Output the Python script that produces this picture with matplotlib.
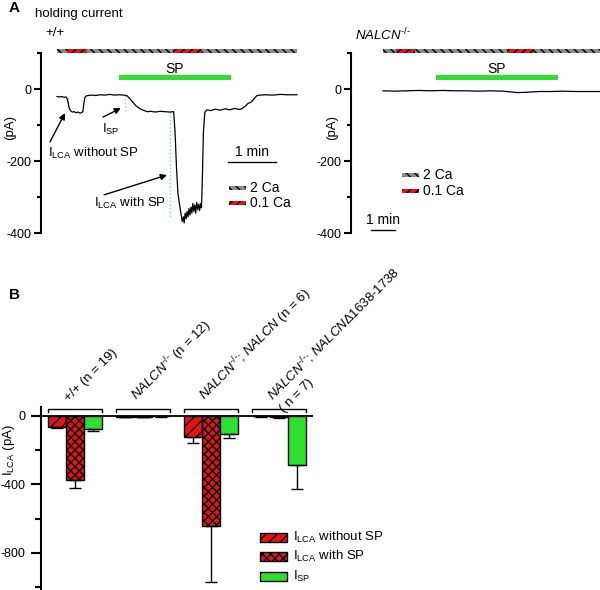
import matplotlib
matplotlib.use('Agg')
import matplotlib.pyplot as plt
from matplotlib.patches import Rectangle
from matplotlib.transforms import offset_copy
import numpy as np

plt.rcParams.update({
    'font.family': ['Liberation Sans', 'DejaVu Sans'],
    'font.size': 9,
    'mathtext.fontset': 'custom',
    'mathtext.rm': 'Liberation Sans',
    'mathtext.it': 'Liberation Sans:italic',
    'mathtext.bf': 'Liberation Sans:bold',
    'axes.unicode_minus': False,
    'hatch.linewidth': 1.0,
})

# ---------------- data ----------------
# Panel A, wild type holding current (time in min, current in pA)
wt_time = [0.00, 0.05, 0.10, 0.15, 0.19, 0.22, 0.25, 0.28, 0.32, 0.36, 0.40, 0.44,
           0.48, 0.52, 0.54, 0.56, 0.58, 0.61, 0.65, 0.72, 0.80, 0.90, 1.00, 1.10,
           1.20, 1.30, 1.40, 1.46, 1.52, 1.58, 1.64, 1.70, 1.76, 1.82, 1.88, 1.95,
           2.05, 2.15, 2.25, 2.35, 2.43, 2.46, 2.49, 2.52, 2.55, 2.57, 2.59, 2.61,
           2.63, 2.65, 2.67, 2.69, 2.71, 2.73, 2.75, 2.77, 2.79, 2.81, 2.83, 2.85,
           2.87, 2.89, 2.91, 2.93, 2.95, 2.97, 2.99, 3.01, 3.03, 3.05, 3.08, 3.12,
           3.20, 3.30, 3.40, 3.50, 3.60, 3.70, 3.80, 3.85, 3.92, 3.98, 4.04, 4.10,
           4.16, 4.22, 4.35, 4.50, 4.65, 4.80, 5.00]
wt_current = [-21, -22, -21, -23, -22, -30, -50, -60, -64, -63, -66, -64,
              -67, -65, -62, -40, -24, -19, -18, -17, -18, -16, -17, -15,
              -17, -16, -17, -19, -27, -37, -46, -52, -57, -60, -63, -62,
              -64, -62, -63, -64, -63, -120, -220, -290, -318, -335, -352, -368,
              -355, -372, -345, -360, -340, -355, -332, -350, -328, -345, -318, -340,
              -322, -345, -315, -335, -320, -338, -318, -330, -240, -120, -65, -58,
              -60, -56, -59, -55, -58, -54, -57, -55, -48, -40, -37, -28,
              -19, -17, -16, -17, -15, -16, -16]
# Panel A, NALCN-/- holding current
ko_time = [0.0, 0.5, 1.0, 1.5, 2.0, 2.5, 3.0, 3.5, 4.0, 4.5, 5.0, 5.3, 5.6,
           6.0, 6.5, 7.0, 7.5, 8.0, 8.5, 9.04]
ko_current = [-5, -6, -5, -4, -5, -4, -5, -5, -6, -5, -6, -8, -10,
              -9, -7, -7, -6, -7, -7, -7]

bath_conc = ['2 Ca', '0.1 Ca', '2 Ca', '0.1 Ca', '2 Ca']
wt_bath_edges = [0.0, 0.21, 0.625, 2.42, 3.02, 5.0]
ko_bath_edges = [0.0, 0.54, 1.33, 5.17, 6.29, 9.04]
wt_sp = [1.29, 3.625]
ko_sp = [2.21, 7.29]
# dotted guide lines (time, top, bottom)
wt_guides = [(0.23, -22, -62), (1.42, -17, -62), (2.35, -64, -355)]

# Panel B
KO = r'$\mathit{NALCN}^{\text{-/-}}$'
group_labels = ['+/+ (n = 19)',
                KO + ' (n = 12)',
                KO + r'; $\mathit{NALCN}$ (n = 6)',
                KO + r'; $\mathit{NALCN}$Δ1638-1738']
group_labels_2nd = ['', '', '', '( n = 7)']
lca_without = [-62, -3, -125, -2]
lca_without_err = [6, 2, 35, 1]
lca_with = [-374, -4, -643, -7]
lca_with_err = [47, 2, 326, 3]
isp = [-78, -2, -107, -287]
isp_err = [8, 1, 20, 140]

# ---------------- styles ----------------
RED = '#e41414'
GREEN = '#2ee02e'
GRAY = '#8c8c8c'
bath_style = {'2 Ca': dict(facecolor=GRAY, edgecolor='k', hatch='\\\\\\\\'),
              '0.1 Ca': dict(facecolor=RED, edgecolor='k', hatch='////')}

W, H = 600, 590
fig = plt.figure(figsize=(6, 5.9), dpi=100)


def rect(x0, y0, x1, y1):
    return [x0 / W, 1 - y1 / H, (x1 - x0) / W, (y1 - y0) / H]


def ftext(x, y, s, **kw):
    fig.text(x / W, 1 - y / H, s, **kw)


def style_axis(ax, bounds, major, minor, majlen, minlen, pad):
    for s in ['top', 'right', 'bottom']:
        ax.spines[s].set_visible(False)
    ax.spines['left'].set_linewidth(1.5)
    ax.spines['left'].set_bounds(*bounds)
    ax.set_xticks([])
    ax.set_yticks(major)
    ax.set_yticks(minor, minor=True)
    ax.tick_params(axis='y', which='major', length=majlen, width=1.5, labelsize=9, pad=pad)
    ax.tick_params(axis='y', which='minor', length=minlen, width=1.5)
    ax.patch.set_visible(False)


def draw_trace_panel(ax, time, current, edges, sp):
    for i, c in enumerate(bath_conc):
        ax.barh(106, edges[i + 1] - edges[i], left=edges[i], height=12,
                linewidth=0, clip_on=False, **bath_style[c])
    ax.barh(32, sp[1] - sp[0], left=sp[0], height=12, color=GREEN, linewidth=0)
    ax.text((sp[0] + sp[1]) / 2, 56, 'SP', ha='center', va='center', fontsize=10)
    ax.plot(time, current, color='k', lw=0.9, clip_on=False)


def draw_bath_legend(ax, x0, x1, y_rows, h, xt):
    for c, yc in zip(bath_conc[:2], y_rows):
        ax.add_patch(Rectangle((x0, yc - h / 2), x1 - x0, h, linewidth=0, **bath_style[c]))
        ax.text(xt, yc, c, ha='left', va='center', fontsize=10)


# ---------- Panel A left ----------
ax1 = fig.add_axes(rect(41, 40, 300, 240))
ax1.set_xlim(-0.333, 5.0625)
ax1.set_ylim(-419.4, 136.1)
style_axis(ax1, (-400, 100), [0, -200, -400], [100, -100, -300], 5, 3, 2)
draw_trace_panel(ax1, wt_time, wt_current, wt_bath_edges, wt_sp)
for t, y0, y1 in wt_guides:
    ax1.plot([t, t], [y0, y1], ls=':', color='#7fd3e3', lw=1, zorder=1)

arrow = dict(arrowstyle='-|>', lw=1, color='k', mutation_scale=9, shrinkA=0, shrinkB=0)
ax1.annotate('', xy=(0.167, -67), xytext=(-0.146, -147), arrowprops=arrow)
ax1.annotate('', xy=(1.33, -53), xytext=(0.96, -78), arrowprops=arrow)
ax1.annotate('', xy=(2.29, -239), xytext=(0.98, -294), arrowprops=arrow)
ax1.text(-0.19, -189, r'I$_{\mathrm{LCA}}$ without SP', ha='left', va='baseline', fontsize=9.5)
ax1.text(0.94, -122, r'I$_{\mathrm{SP}}$', ha='left', va='baseline', fontsize=9.5)
ax1.text(0.77, -328, r'I$_{\mathrm{LCA}}$ with SP', ha='left', va='baseline', fontsize=9.5)

ax1.plot([3.56, 4.56], [-203, -203], color='k', lw=1)
ax1.text(4.06, -186, '1 min', ha='center', va='baseline', fontsize=10)
draw_bath_legend(ax1, 3.58, 3.94, [-276, -317], 11, 4.02)

# ---------- Panel A right ----------
ax2 = fig.add_axes(rect(351, 40, 600, 240))
ax2.set_xlim(-1.333, 9.042)
ax2.set_ylim(-419.4, 136.1)
style_axis(ax2, (-400, 100), [0, -200, -400], [100, -100, -300], 5, 3, 2)
draw_trace_panel(ax2, ko_time, ko_current, ko_bath_edges, ko_sp)
ax2.plot([-0.5, 0.5], [-392, -392], color='k', lw=1)
ax2.text(0.0, -375, '1 min', ha='center', va='baseline', fontsize=10)
draw_bath_legend(ax2, 0.79, 1.5, [-239, -283], 11, 1.67)

# ---------- Panel B ----------
ax3 = fig.add_axes(rect(41, 395, 313, 590))
ax3.set_xlim(-0.5, 3.5)
ax3.set_ylim(-1017.5, 122.8)
style_axis(ax3, (-1017.5, 50), [0, -400, -800], [-200, -600, -1000], 7, 4, 4)

x = np.arange(len(group_labels))
w = 18 / 68
bar_specs = [
    (lca_without, lca_without_err, dict(facecolor=RED, hatch='///'), r'I$_{\mathrm{LCA}}$ without SP'),
    (lca_with, lca_with_err, dict(facecolor=RED, hatch='xxxx'), r'I$_{\mathrm{LCA}}$ with SP'),
    (isp, isp_err, dict(facecolor=GREEN), r'I$_{\mathrm{SP}}$'),
]
for k, (vals, errs, st, lab) in enumerate(bar_specs):
    ax3.bar(x + (k - 1) * w, vals, w, edgecolor='k', linewidth=1, **st,
            yerr=[errs, [0] * len(errs)], capsize=4.5,
            error_kw=dict(elinewidth=1, capthick=1, ecolor='k'))
ax3.axhline(0, color='k', lw=1.3)

second_tr = offset_copy(ax3.transData, fig=fig, x=8, y=-8, units='points')
for i, (lab, lab2) in enumerate(zip(group_labels, group_labels_2nd)):
    xl, xr = i - 1.5 * w, i + 1.5 * w
    ax3.plot([xl, xl, xr, xr], [23, 41, 41, 23], color='k', lw=1, clip_on=False)
    ax3.text(i - 0.09, 85, lab, rotation=45, rotation_mode='anchor',
             ha='left', va='baseline', fontsize=9.5)
    if lab2:
        ax3.text(i - 0.09, 85, lab2, rotation=45, rotation_mode='anchor',
                 ha='left', va='baseline', fontsize=9.5, transform=second_tr)

# legend B
ly = [-710, -821, -938]
for (vals, errs, st, lab), yc in zip(bar_specs, ly):
    ax3.add_patch(Rectangle((2.72, yc - 27), 0.40, 54, edgecolor='k', linewidth=1, **st))
    ax3.text(3.21, yc, lab, ha='left', va='center', fontsize=9.5)

# ---------- figure texts ----------
ftext(14, 8, 'A', ha='center', va='center', fontsize=11, fontweight='bold')
ftext(35, 14, 'holding current', ha='left', va='center', fontsize=9.5)
ftext(45, 33, '+/+', ha='left', va='center', fontsize=9.5)
ftext(355, 40, KO, ha='left', va='baseline', fontsize=9.5)
ftext(10, 128, '(pA)', ha='center', va='center', rotation=90, fontsize=9.5)
ftext(332, 128, '(pA)', ha='center', va='center', rotation=90, fontsize=9.5)
ftext(14, 295, 'B', ha='center', va='center', fontsize=11, fontweight='bold')
ftext(9, 450, r'I$_{\mathrm{LCA}}$ (pA)', ha='center', va='center', rotation=90, fontsize=9.5)

fig.savefig('out.png', dpi=100)
